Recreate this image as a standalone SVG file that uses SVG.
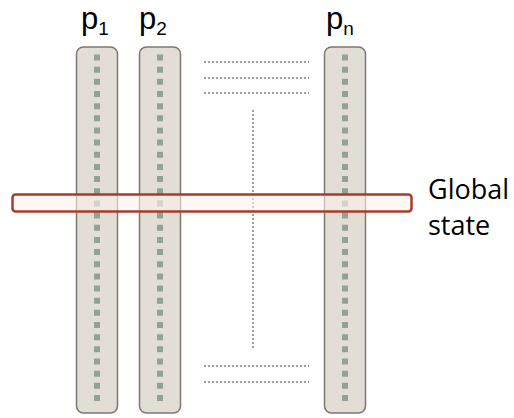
<svg xmlns="http://www.w3.org/2000/svg" width="514" height="418" viewBox="0 0 514 418">
<style>
.pillar{fill:#e2ddd5;stroke:#7d786f;stroke-width:1.5}
.dots{stroke:#93a296;stroke-width:6;stroke-dasharray:6 6.16;fill:none}
.dotline{stroke:#96a3a0;stroke-width:2;stroke-dasharray:2 2;fill:none}
.lbl{font-family:"Open Sans","Liberation Sans",sans-serif;fill:#000}
.plbl{font-family:"Liberation Sans","Open Sans",sans-serif;fill:#000}
</style>
<rect width="514" height="418" fill="#fff"/>
<g id="p1">
<rect class="pillar" x="76.5" y="47" width="41" height="366" rx="7"/>
<line class="dots" x1="97" y1="54.5" x2="97" y2="402"/>
<text class="plbl" x="81" y="28.5" font-size="31">p<tspan font-size="19" dy="6.5">1</tspan></text>
</g>
<g id="p2">
<rect class="pillar" x="139.5" y="47" width="41" height="366" rx="7"/>
<line class="dots" x1="160" y1="54.5" x2="160" y2="402"/>
<text class="plbl" x="139" y="28.5" font-size="31">p<tspan font-size="19" dy="6.5">2</tspan></text>
</g>
<g id="pn">
<rect class="pillar" x="324.5" y="47" width="41" height="366" rx="7"/>
<line class="dots" x1="345" y1="54.5" x2="345" y2="402"/>
<text class="plbl" x="326" y="28.5" font-size="31">p<tspan font-size="19" dy="6.5">n</tspan></text>
</g>
<g id="connectors">
<line class="dotline" x1="204" y1="62" x2="309" y2="62"/>
<line class="dotline" x1="204" y1="78" x2="309" y2="78"/>
<line class="dotline" x1="204" y1="93" x2="309" y2="93"/>
<line class="dotline" x1="253" y1="110" x2="253" y2="348"/>
<line class="dotline" x1="204" y1="366" x2="309" y2="366"/>
<line class="dotline" x1="204" y1="382" x2="309" y2="382"/>
</g>
<g id="global-state">
<rect x="12.5" y="194.5" width="399" height="17" rx="3" fill="#fdf1ec" fill-opacity="0.6" stroke="#a83c2c" stroke-width="2.5"/>
<text class="lbl" x="428" y="199" font-size="27">Global</text>
<text class="lbl" x="428" y="235" font-size="27">state</text>
</g>
</svg>
